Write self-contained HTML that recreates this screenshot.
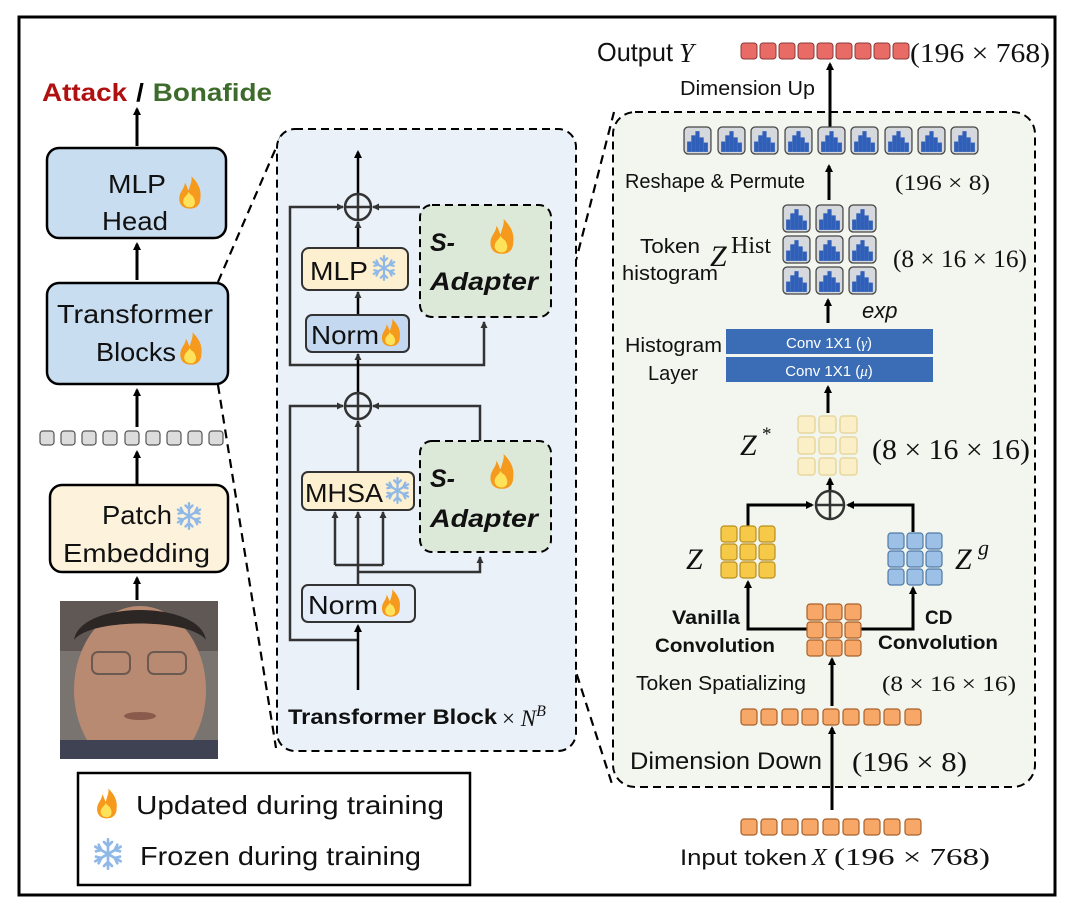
<!DOCTYPE html>
<html><head><meta charset="utf-8"><style>
html,body{margin:0;padding:0;background:#fff;}
svg{display:block;}
text{font-family:"Liberation Sans","DejaVu Sans",sans-serif;fill:#111;}
.serif{font-family:"Liberation Serif","DejaVu Serif",serif;}
</style></head><body>
<svg width="1080" height="920" viewBox="0 0 1080 920" xmlns="http://www.w3.org/2000/svg">
<defs>
<marker id="ah" markerWidth="8" markerHeight="8" refX="6" refY="4" orient="auto" markerUnits="userSpaceOnUse"><path d="M0,0 L8,4 L0,8 z" fill="#000"/></marker>
<marker id="ahs" markerWidth="7" markerHeight="7" refX="6" refY="3.5" orient="auto" markerUnits="userSpaceOnUse"><path d="M0,0 L7,3.5 L0,7 z" fill="#333"/></marker>
<clipPath id="fc"><rect x="60" y="601" width="158" height="158"/></clipPath>
<symbol id="fire" viewBox="0 0 20 26">
<path d="M10 25 C3 25 1 20 2 15 C3 11 6 9 6 5 C8 8 8 10 9 11 C10 7 12 3 11 0 C16 5 19 10 18 17 C18 22 15 25 10 25 z" fill="#f59a1c"/>
<path d="M10 24 C6 24 4 21 5 18 C6 15 8 15 9 12 C10 15 12 14 13 17 C15 21 13 24 10 24 z" fill="#fde25a"/>
</symbol>
<symbol id="snow" viewBox="0 0 24 24">
<g stroke="#8fb8e6" stroke-width="2" fill="none" stroke-linecap="round">
<path d="M12 1 V23 M2.5 6.5 L21.5 17.5 M2.5 17.5 L21.5 6.5"/>
<path d="M9 3 L12 6 L15 3 M9 21 L12 18 L15 21 M3 10 L7 9 L5 5 M21 14 L17 15 L19 19 M3 14 L7 15 L5 19 M21 10 L17 9 L19 5"/>
</g>
</symbol>
<symbol id="hist" viewBox="0 0 28 28">
<rect x="1" y="1" width="26" height="26" rx="4" fill="#d5d8dd" stroke="#444" stroke-width="1.2"/>
<g fill="#2f5fb8"><rect x="4" y="15" width="4" height="10"/><rect x="8" y="9" width="4" height="16"/><rect x="12" y="5" width="4" height="20"/><rect x="16" y="11" width="4" height="14"/><rect x="20" y="16" width="4" height="9"/></g>
</symbol>
</defs>

<rect x="19" y="17" width="1036" height="878" fill="#fff" stroke="#000" stroke-width="3"/>

<g stroke="#000" stroke-width="2.2" stroke-dasharray="9,6" fill="none">
<path d="M218 282 L282 134"/>
<path d="M218 385 L276 748"/>
<path d="M530 440 L614 112"/>
<path d="M540 560 L612 784"/>
</g>

<!-- LEFT column -->
<text x="42" y="101" font-size="25" font-weight="bold" textLength="230" lengthAdjust="spacingAndGlyphs"><tspan style="fill:#b01010">Attack</tspan><tspan dx="8" style="fill:#000">/</tspan><tspan dx="8" style="fill:#3d6b2c">Bonafide</tspan></text>
<g stroke="#000" stroke-width="3" marker-end="url(#ah)">
<line x1="137" y1="146" x2="137" y2="109"/>
<line x1="137" y1="280" x2="137" y2="244"/>
<line x1="137" y1="427" x2="137" y2="390"/>
<line x1="137" y1="484" x2="137" y2="452"/>
<line x1="137" y1="600" x2="137" y2="578"/>
</g>
<rect x="47" y="148" width="179" height="90" rx="12" fill="#c9ddf1" stroke="#000" stroke-width="2.5"/>
<text x="108" y="193" font-size="26" textLength="58" lengthAdjust="spacingAndGlyphs">MLP</text>
<text x="102" y="230" font-size="26" textLength="66" lengthAdjust="spacingAndGlyphs">Head</text>
<use href="#fire" x="177" y="176" width="26" height="34"/>
<rect x="47" y="283" width="181" height="101" rx="12" fill="#c9ddf1" stroke="#000" stroke-width="2.5"/>
<text x="57" y="323" font-size="26" textLength="156" lengthAdjust="spacingAndGlyphs">Transformer</text>
<text x="96" y="361" font-size="26" textLength="80" lengthAdjust="spacingAndGlyphs">Blocks</text>
<use href="#fire" x="178" y="332" width="26" height="34"/>
<g fill="#dcdcdc" stroke="#555" stroke-width="1.2">
<rect x="40" y="431" width="14" height="14" rx="3"/><rect x="61" y="431" width="14" height="14" rx="3"/><rect x="82" y="431" width="14" height="14" rx="3"/><rect x="103" y="431" width="14" height="14" rx="3"/><rect x="125" y="431" width="14" height="14" rx="3"/><rect x="146" y="431" width="14" height="14" rx="3"/><rect x="167" y="431" width="14" height="14" rx="3"/><rect x="188" y="431" width="14" height="14" rx="3"/><rect x="209" y="431" width="14" height="14" rx="3"/>
</g>
<rect x="50" y="485" width="178" height="87" rx="12" fill="#fdf3dd" stroke="#000" stroke-width="2.5"/>
<text x="102" y="524" font-size="26" textLength="70" lengthAdjust="spacingAndGlyphs">Patch</text>
<use href="#snow" x="175" y="502" width="28" height="28"/>
<text x="63" y="562" font-size="26" textLength="147" lengthAdjust="spacingAndGlyphs">Embedding</text>

<!-- face -->
<g clip-path="url(#fc)">
<rect x="60" y="601" width="158" height="158" fill="#7a7470"/>
<rect x="60" y="601" width="158" height="50" fill="#5f5854"/>
<ellipse cx="140" cy="690" rx="66" ry="84" fill="#b98a72"/>
<path d="M74 640 C80 600 200 600 206 640 C190 618 90 618 74 640 z" fill="#2c2624"/>
<rect x="60" y="740" width="158" height="19" fill="#3f4252"/>
<rect x="92" y="652" width="38" height="22" rx="6" fill="none" stroke="#6b5a52" stroke-width="2"/>
<rect x="148" y="652" width="38" height="22" rx="6" fill="none" stroke="#6b5a52" stroke-width="2"/>
<ellipse cx="140" cy="716" rx="16" ry="4" fill="#8a5a4c"/>
</g>

<!-- legend -->
<rect x="78" y="773" width="392" height="112" fill="#fff" stroke="#000" stroke-width="2.5"/>
<use href="#fire" x="95" y="788" width="24" height="32"/>
<text x="136" y="814" font-size="26" textLength="308" lengthAdjust="spacingAndGlyphs">Updated during training</text>
<use href="#snow" x="92" y="838" width="32" height="32"/>
<text x="140" y="865" font-size="26" textLength="281" lengthAdjust="spacingAndGlyphs">Frozen during training</text>

<!-- MIDDLE block -->
<rect x="277" y="129" width="299" height="622" rx="18" fill="#eaf1f9" stroke="#000" stroke-width="2" stroke-dasharray="8,5"/>
<rect x="420" y="205" width="131" height="112" rx="12" fill="#dde9d8" stroke="#000" stroke-width="2" stroke-dasharray="8,5"/>
<text x="430" y="251" font-size="25" font-weight="bold" font-style="italic">S-</text>
<text x="430" y="290" font-size="25" font-weight="bold" font-style="italic" textLength="108" lengthAdjust="spacingAndGlyphs">Adapter</text>
<use href="#fire" x="488" y="218" width="28" height="38"/>
<rect x="420" y="441" width="131" height="111" rx="12" fill="#dde9d8" stroke="#000" stroke-width="2" stroke-dasharray="8,5"/>
<text x="430" y="487" font-size="25" font-weight="bold" font-style="italic">S-</text>
<text x="430" y="527" font-size="25" font-weight="bold" font-style="italic" textLength="108" lengthAdjust="spacingAndGlyphs">Adapter</text>
<use href="#fire" x="488" y="453" width="28" height="38"/>

<g stroke="#333" stroke-width="2.5" fill="none">
<line x1="358" y1="194" x2="358" y2="152" marker-end="url(#ah)" stroke="#000"/>
<circle cx="358" cy="207" r="13"/><line x1="345" y1="207" x2="371" y2="207"/><line x1="358" y1="194" x2="358" y2="220"/>
<path d="M358 365 L290 365 L290 207 L343 207" marker-end="url(#ahs)"/>
<path d="M420 207 L373 207" marker-end="url(#ahs)"/>
<path d="M358 365 L484 365 L484 322" marker-end="url(#ahs)"/>
<line x1="358" y1="247" x2="358" y2="222" marker-end="url(#ahs)" stroke="#000"/>
<line x1="358" y1="315" x2="358" y2="292" marker-end="url(#ahs)" stroke="#000"/>
<line x1="358" y1="393" x2="358" y2="354" marker-end="url(#ahs)" stroke="#000"/>
<circle cx="358" cy="406" r="13"/><line x1="345" y1="406" x2="371" y2="406"/><line x1="358" y1="393" x2="358" y2="419"/>
<path d="M358 640 L290 640 L290 406 L343 406" marker-end="url(#ahs)"/>
<path d="M480 441 L480 406 L373 406" marker-end="url(#ahs)"/>
<line x1="358" y1="472" x2="358" y2="421" marker-end="url(#ahs)"/>
<path d="M358 585 L358 512" marker-end="url(#ahs)"/>
<path d="M335 565 L335 512" marker-end="url(#ahs)"/>
<path d="M383 565 L383 512" marker-end="url(#ahs)"/>
<line x1="335" y1="565" x2="383" y2="565"/>
<path d="M358 572 L480 572 L480 557" marker-end="url(#ahs)"/>
<line x1="358" y1="690" x2="358" y2="626" marker-end="url(#ah)" stroke="#000"/>
</g>
<rect x="302" y="248" width="106" height="42" rx="7" fill="#fdf0d0" stroke="#333" stroke-width="2"/>
<text x="310" y="280" font-size="26" textLength="58" lengthAdjust="spacingAndGlyphs">MLP</text>
<use href="#snow" x="371" y="255" width="26" height="26"/>
<rect x="306" y="315" width="103" height="37" rx="6" fill="#c4d9ef" stroke="#333" stroke-width="2"/>
<text x="311" y="344" font-size="26" textLength="68" lengthAdjust="spacingAndGlyphs">Norm</text>
<use href="#fire" x="380" y="318" width="22" height="30"/>
<rect x="302" y="472" width="112" height="38" rx="6" fill="#fdf0d0" stroke="#333" stroke-width="2"/>
<text x="305" y="502" font-size="26" textLength="78" lengthAdjust="spacingAndGlyphs">MHSA</text>
<use href="#snow" x="384" y="477" width="27" height="27"/>
<rect x="302" y="585" width="113" height="37" rx="6" fill="#e4edf8" stroke="#333" stroke-width="2"/>
<text x="308" y="614" font-size="26" textLength="70" lengthAdjust="spacingAndGlyphs">Norm</text>
<use href="#fire" x="380" y="589" width="22" height="29"/>
<text x="288" y="724" font-size="21" font-weight="bold" textLength="209" lengthAdjust="spacingAndGlyphs">Transformer Block</text>
<text x="502" y="726" font-size="23" class="serif">× <tspan font-style="italic">N</tspan><tspan font-style="italic" font-size="16" dy="-10">B</tspan></text>

<!-- RIGHT block -->
<text x="597" y="61" font-size="26" textLength="76" lengthAdjust="spacingAndGlyphs">Output</text>
<text x="679" y="62" font-size="27" class="serif" font-style="italic">Y</text>
<g fill="#e86b66" stroke="#8a3a38" stroke-width="1">
<rect x="741" y="43" width="16" height="16" rx="3"/><rect x="760" y="43" width="16" height="16" rx="3"/><rect x="779" y="43" width="16" height="16" rx="3"/><rect x="798" y="43" width="16" height="16" rx="3"/><rect x="817" y="43" width="16" height="16" rx="3"/><rect x="836" y="43" width="16" height="16" rx="3"/><rect x="855" y="43" width="16" height="16" rx="3"/><rect x="874" y="43" width="16" height="16" rx="3"/><rect x="893" y="43" width="16" height="16" rx="3"/>
</g>
<text x="910" y="62" font-size="27" class="serif" textLength="140" lengthAdjust="spacingAndGlyphs">(196 × 768)</text>
<text x="680" y="95" font-size="20" textLength="135" lengthAdjust="spacingAndGlyphs">Dimension Up</text>

<rect x="613" y="112" width="422" height="675" rx="22" fill="#f3f6ee" stroke="#000" stroke-width="2" stroke-dasharray="8,5"/>
<line x1="830" y1="127" x2="830" y2="64" stroke="#000" stroke-width="3" marker-end="url(#ah)"/>

<g>
<use href="#hist" x="683" y="126" width="29" height="29"/><use href="#hist" x="717" y="126" width="29" height="29"/><use href="#hist" x="750" y="126" width="29" height="29"/><use href="#hist" x="784" y="126" width="29" height="29"/><use href="#hist" x="817" y="126" width="29" height="29"/><use href="#hist" x="850" y="126" width="29" height="29"/><use href="#hist" x="884" y="126" width="29" height="29"/><use href="#hist" x="917" y="126" width="29" height="29"/><use href="#hist" x="950" y="126" width="29" height="29"/>
</g>
<text x="625" y="188" font-size="20" textLength="180" lengthAdjust="spacingAndGlyphs">Reshape &amp; Permute</text>
<line x1="829" y1="200" x2="829" y2="166" stroke="#000" stroke-width="3" marker-end="url(#ah)"/>
<text x="895" y="190" font-size="22" class="serif" textLength="95" lengthAdjust="spacingAndGlyphs">(196 × 8)</text>

<g>
<use href="#hist" x="782" y="204" width="29" height="29"/><use href="#hist" x="815" y="204" width="29" height="29"/><use href="#hist" x="848" y="204" width="29" height="29"/>
<use href="#hist" x="782" y="235" width="29" height="29"/><use href="#hist" x="815" y="235" width="29" height="29"/><use href="#hist" x="848" y="235" width="29" height="29"/>
<use href="#hist" x="782" y="266" width="29" height="29"/><use href="#hist" x="815" y="266" width="29" height="29"/><use href="#hist" x="848" y="266" width="29" height="29"/>
</g>
<text x="640" y="253" font-size="20" textLength="60" lengthAdjust="spacingAndGlyphs">Token</text>
<text x="622" y="280" font-size="20" textLength="96" lengthAdjust="spacingAndGlyphs">histogram</text>
<text x="710" y="266" font-size="30" class="serif" font-style="italic">Z</text>
<text x="731" y="253" font-size="24" class="serif">Hist</text>
<text x="893" y="267" font-size="25" class="serif" textLength="134" lengthAdjust="spacingAndGlyphs">(8 × 16 × 16)</text>
<line x1="828" y1="323" x2="828" y2="300" stroke="#000" stroke-width="3" marker-end="url(#ah)"/>
<text x="862" y="318" font-size="22" font-style="italic">exp</text>

<rect x="726" y="329" width="207" height="25" fill="#3a6db5"/>
<rect x="726" y="357" width="207" height="25" fill="#3a6db5"/>
<text x="829" y="348" font-size="15" text-anchor="middle" style="fill:#fff">Conv 1X1 (<tspan class="serif" font-style="italic" style="fill:#fff">γ</tspan>)</text>
<text x="829" y="376" font-size="15" text-anchor="middle" style="fill:#fff">Conv 1X1 (<tspan class="serif" font-style="italic" style="fill:#fff">μ</tspan>)</text>
<text x="625" y="352" font-size="20" textLength="97" lengthAdjust="spacingAndGlyphs">Histogram</text>
<text x="648" y="380" font-size="20" textLength="50" lengthAdjust="spacingAndGlyphs">Layer</text>
<line x1="828" y1="413" x2="828" y2="387" stroke="#000" stroke-width="3" marker-end="url(#ah)"/>

<g fill="#fbefc8" stroke="#e8d79e" stroke-width="1.5">
<rect x="798" y="416" width="17" height="17" rx="3"/><rect x="819" y="416" width="17" height="17" rx="3"/><rect x="840" y="416" width="17" height="17" rx="3"/>
<rect x="798" y="437" width="17" height="17" rx="3"/><rect x="819" y="437" width="17" height="17" rx="3"/><rect x="840" y="437" width="17" height="17" rx="3"/>
<rect x="798" y="458" width="17" height="17" rx="3"/><rect x="819" y="458" width="17" height="17" rx="3"/><rect x="840" y="458" width="17" height="17" rx="3"/>
</g>
<text x="740" y="455" font-size="30" class="serif" font-style="italic">Z</text>
<text x="762" y="440" font-size="19" class="serif">*</text>
<text x="872" y="459" font-size="28" class="serif" textLength="158" lengthAdjust="spacingAndGlyphs">(8 × 16 × 16)</text>

<g stroke="#000" stroke-width="3" fill="none">
<line x1="830" y1="491" x2="830" y2="479" marker-end="url(#ah)"/>
<path d="M748 526 L748 505 L812 505" marker-end="url(#ah)"/>
<path d="M913 532 L913 505 L848 505" marker-end="url(#ah)"/>
<path d="M807 629 L748 629 L748 582" marker-end="url(#ah)"/>
<path d="M861 629 L913 629 L913 588" marker-end="url(#ah)"/>
<line x1="832" y1="706" x2="832" y2="659" marker-end="url(#ah)"/>
<line x1="832" y1="810" x2="832" y2="728" marker-end="url(#ah)"/>
</g>
<circle cx="830" cy="505" r="14" fill="none" stroke="#333" stroke-width="2.5"/>
<line x1="816" y1="505" x2="844" y2="505" stroke="#333" stroke-width="2.5"/><line x1="830" y1="491" x2="830" y2="519" stroke="#333" stroke-width="2.5"/>

<g fill="#f7c948" stroke="#b8901f" stroke-width="1.2">
<rect x="721" y="526" width="16" height="16" rx="3"/><rect x="740" y="526" width="16" height="16" rx="3"/><rect x="759" y="526" width="16" height="16" rx="3"/>
<rect x="721" y="544" width="16" height="16" rx="3"/><rect x="740" y="544" width="16" height="16" rx="3"/><rect x="759" y="544" width="16" height="16" rx="3"/>
<rect x="721" y="562" width="16" height="16" rx="3"/><rect x="740" y="562" width="16" height="16" rx="3"/><rect x="759" y="562" width="16" height="16" rx="3"/>
</g>
<text x="686" y="569" font-size="30" class="serif" font-style="italic">Z</text>
<g fill="#9dc0e6" stroke="#4f79a8" stroke-width="1.2">
<rect x="888" y="533" width="16" height="16" rx="3"/><rect x="907" y="533" width="16" height="16" rx="3"/><rect x="926" y="533" width="16" height="16" rx="3"/>
<rect x="888" y="551" width="16" height="16" rx="3"/><rect x="907" y="551" width="16" height="16" rx="3"/><rect x="926" y="551" width="16" height="16" rx="3"/>
<rect x="888" y="569" width="16" height="16" rx="3"/><rect x="907" y="569" width="16" height="16" rx="3"/><rect x="926" y="569" width="16" height="16" rx="3"/>
</g>
<text x="955" y="569" font-size="30" class="serif" font-style="italic">Z</text>
<text x="978" y="555" font-size="22" class="serif" font-style="italic">g</text>
<g fill="#f7a868" stroke="#a8602a" stroke-width="1.2">
<rect x="807" y="604" width="16" height="16" rx="3"/><rect x="826" y="604" width="16" height="16" rx="3"/><rect x="845" y="604" width="16" height="16" rx="3"/>
<rect x="807" y="622" width="16" height="16" rx="3"/><rect x="826" y="622" width="16" height="16" rx="3"/><rect x="845" y="622" width="16" height="16" rx="3"/>
<rect x="807" y="640" width="16" height="16" rx="3"/><rect x="826" y="640" width="16" height="16" rx="3"/><rect x="845" y="640" width="16" height="16" rx="3"/>
</g>
<text x="672" y="624" font-size="19" font-weight="bold" textLength="68" lengthAdjust="spacingAndGlyphs">Vanilla</text>
<text x="655" y="652" font-size="19" font-weight="bold" textLength="120" lengthAdjust="spacingAndGlyphs">Convolution</text>
<text x="925" y="624" font-size="19" font-weight="bold">CD</text>
<text x="878" y="649" font-size="19" font-weight="bold" textLength="120" lengthAdjust="spacingAndGlyphs">Convolution</text>
<text x="636" y="690" font-size="20" textLength="170" lengthAdjust="spacingAndGlyphs">Token Spatializing</text>
<text x="882" y="691" font-size="22" class="serif" textLength="134" lengthAdjust="spacingAndGlyphs">(8 × 16 × 16)</text>

<g fill="#f7a868" stroke="#a8602a" stroke-width="1.2">
<rect x="741" y="709" width="16" height="16" rx="3"/><rect x="761" y="709" width="16" height="16" rx="3"/><rect x="782" y="709" width="16" height="16" rx="3"/><rect x="802" y="709" width="16" height="16" rx="3"/><rect x="823" y="709" width="16" height="16" rx="3"/><rect x="843" y="709" width="16" height="16" rx="3"/><rect x="864" y="709" width="16" height="16" rx="3"/><rect x="884" y="709" width="16" height="16" rx="3"/><rect x="905" y="709" width="16" height="16" rx="3"/>
</g>
<text x="630" y="769" font-size="24" textLength="192" lengthAdjust="spacingAndGlyphs">Dimension Down</text>
<text x="852" y="771" font-size="27" class="serif" textLength="115" lengthAdjust="spacingAndGlyphs">(196 × 8)</text>
<g fill="#f7a868" stroke="#a8602a" stroke-width="1.2">
<rect x="741" y="819" width="16" height="16" rx="3"/><rect x="761" y="819" width="16" height="16" rx="3"/><rect x="782" y="819" width="16" height="16" rx="3"/><rect x="802" y="819" width="16" height="16" rx="3"/><rect x="823" y="819" width="16" height="16" rx="3"/><rect x="843" y="819" width="16" height="16" rx="3"/><rect x="864" y="819" width="16" height="16" rx="3"/><rect x="884" y="819" width="16" height="16" rx="3"/><rect x="905" y="819" width="16" height="16" rx="3"/>
</g>
<text x="680" y="865" font-size="22" textLength="127" lengthAdjust="spacingAndGlyphs">Input token</text>
<text x="812" y="865" font-size="24" class="serif" font-style="italic">X</text>
<text x="834" y="865" font-size="24" class="serif" textLength="156" lengthAdjust="spacingAndGlyphs">(196 × 768)</text>
</svg>
</body></html>
